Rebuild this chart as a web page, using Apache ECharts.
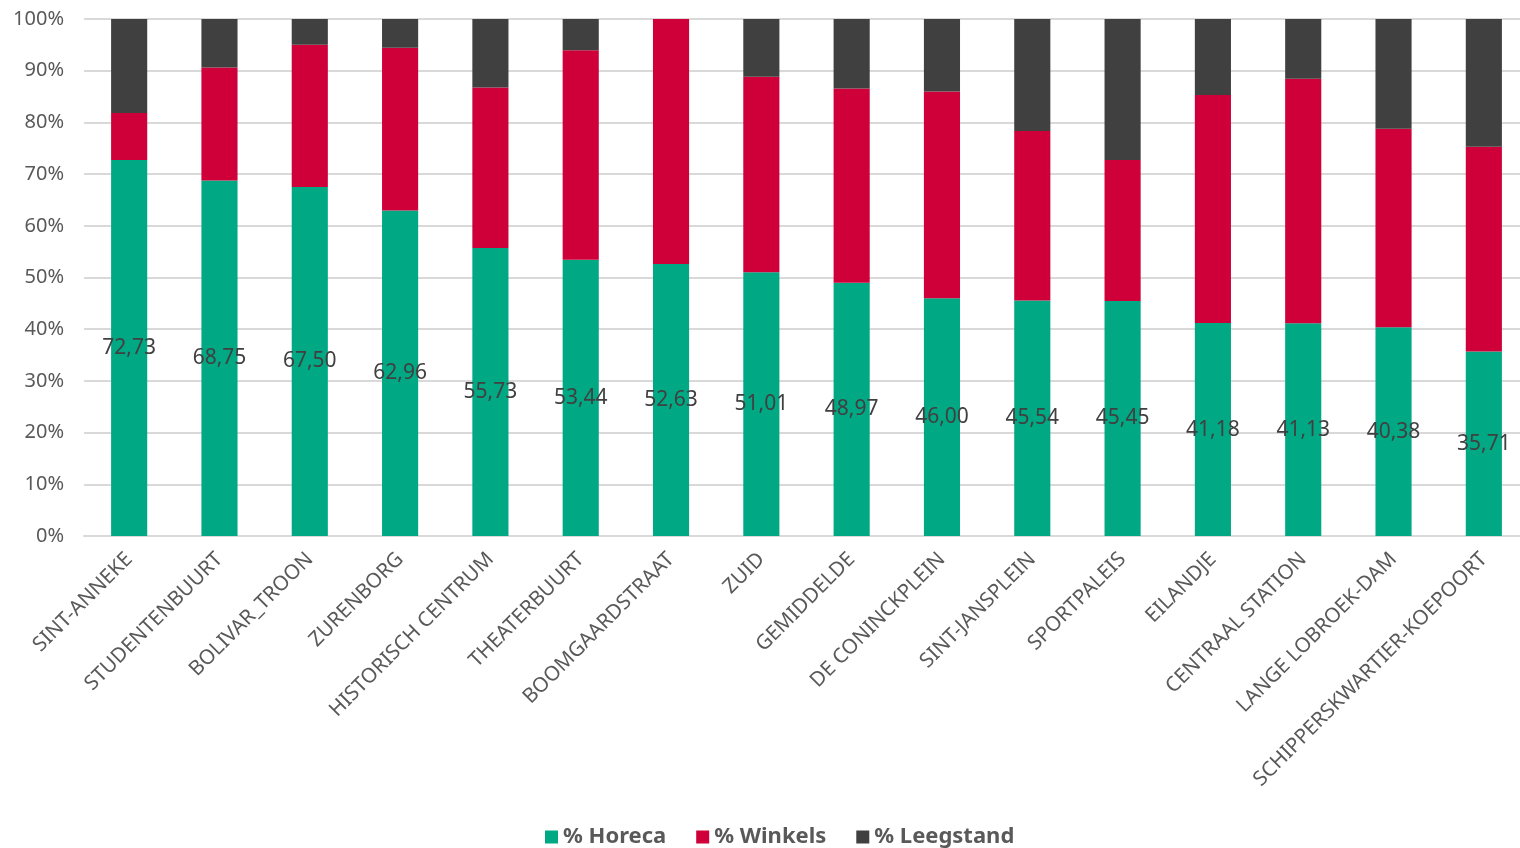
<!DOCTYPE html>
<html>
<head>
<meta charset="utf-8">
<script src="https://cdn.jsdelivr.net/npm/echarts@6/dist/echarts.min.js"></script>
<style>
  html, body { margin: 0; padding: 0; background: #ffffff; overflow: hidden; }
  #chart { width: 1520px; height: 848px; }
</style>
</head>
<body>
<div id="chart"></div>
<script>
// Share of horeca, shops and vacancy per district (percent of ground-floor units)
const categories = [
  'SINT-ANNEKE', 'STUDENTENBUURT', 'BOLIVAR_TROON', 'ZURENBORG', 'HISTORISCH CENTRUM',
  'THEATERBUURT', 'BOOMGAARDSTRAAT', 'ZUID', 'GEMIDDELDE', 'DE CONINCKPLEIN',
  'SINT-JANSPLEIN', 'SPORTPALEIS', 'EILANDJE', 'CENTRAAL STATION', 'LANGE LOBROEK-DAM',
  'SCHIPPERSKWARTIER-KOEPOORT'
];
const horeca = [72.73, 68.75, 67.50, 62.96, 55.73, 53.44, 52.63, 51.01, 48.97, 46.00, 45.54, 45.45, 41.18, 41.13, 40.38, 35.71];
const winkels = [9.09, 21.88, 27.50, 31.48, 31.00, 40.50, 47.37, 37.80, 37.60, 40.00, 32.80, 27.27, 44.12, 47.30, 38.40, 39.60];
const leegstand = [18.18, 9.37, 5.00, 5.56, 13.27, 6.06, 0.00, 11.19, 13.43, 14.00, 21.66, 27.28, 14.70, 11.57, 21.22, 24.69];
const yTicks = [0, 10, 20, 30, 40, 50, 60, 70, 80, 90, 100];

const FONT = '"Noto Sans", "Open Sans", sans-serif';
const TEXT = '#595959';

const chart = echarts.init(document.getElementById('chart'), null, { renderer: 'canvas' });

chart.setOption({
  animation: false,
  backgroundColor: '#ffffff',
  textStyle: { fontFamily: FONT },
  // plot runs slightly past the right edge of the canvas
  grid: { left: 84, width: 1445, top: 19, height: 517, containLabel: false, outerBoundsMode: 'none' },
  legend: {
    top: 821,
    left: 540,
    itemWidth: 13,
    itemHeight: 13,
    itemGap: 30,
    icon: 'rect',
    textStyle: { fontFamily: FONT, fontSize: 22, fontWeight: 'bold', color: TEXT },
    data: ['% Horeca', '% Winkels', '% Leegstand']
  },
  xAxis: {
    type: 'category',
    data: categories,
    axisTick: { show: false },
    axisLine: { show: true, lineStyle: { color: '#d9d9d9', width: 2 } },
    axisLabel: {
      rotate: 45,
      interval: 0,
      margin: 20,
      fontSize: 20.5,
      color: TEXT,
      fontFamily: FONT
    }
  },
  yAxis: {
    type: 'value',
    min: yTicks[0],
    max: yTicks[yTicks.length - 1],
    interval: 10,
    axisLine: { show: false },
    axisTick: { show: false },
    axisLabel: {
      fontSize: 20,
      color: TEXT,
      fontFamily: FONT,
      margin: 20,
      formatter: v => v + '%'
    },
    splitLine: { lineStyle: { color: '#d9d9d9', width: 2 } }
  },
  series: [
    {
      name: '% Horeca',
      type: 'bar',
      stack: 'total',
      barWidth: '40%',
      data: horeca,
      itemStyle: { color: '#00A984' },
      label: {
        show: true,
        position: 'inside',
        color: '#404040',
        fontSize: 21,
        fontFamily: FONT,
        formatter: p => p.value.toFixed(2).replace('.', ',')
      }
    },
    {
      name: '% Winkels',
      type: 'bar',
      stack: 'total',
      data: winkels,
      itemStyle: { color: '#CF0039' }
    },
    {
      name: '% Leegstand',
      type: 'bar',
      stack: 'total',
      data: leegstand,
      itemStyle: { color: '#404040' }
    }
  ]
});
</script>
</body>
</html>
